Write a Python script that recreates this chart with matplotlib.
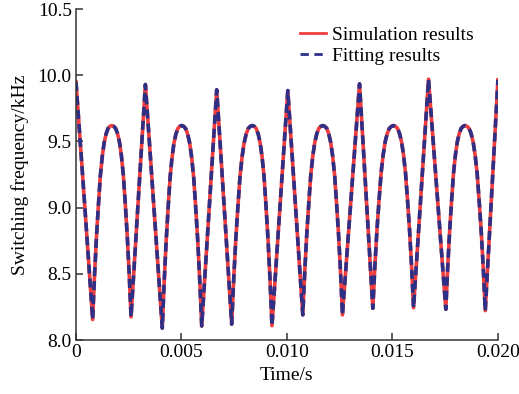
import matplotlib
matplotlib.use("Agg")
import matplotlib.pyplot as plt

plt.rcParams['font.family'] = ['Liberation Serif', 'DejaVu Serif']

# time in ms, switching frequency in kHz
time_ms = [
    0.0, 0.40, 0.79,
    0.881, 0.972, 1.063, 1.154, 1.245, 1.336, 1.427, 1.518, 1.609, 1.70,
    1.791, 1.882, 1.973, 2.064, 2.155, 2.246, 2.337, 2.428, 2.519, 2.61,
    2.95, 3.29, 3.69, 4.09,
    4.182, 4.274, 4.366, 4.458, 4.55, 4.642, 4.734, 4.826, 4.918, 5.01,
    5.105, 5.20, 5.295, 5.39, 5.485, 5.58, 5.675, 5.77, 5.865, 5.96,
    6.315, 6.67, 7.025, 7.38,
    7.478, 7.576, 7.674, 7.772, 7.87, 7.968, 8.066, 8.164, 8.262, 8.36,
    8.453, 8.546, 8.639, 8.732, 8.825, 8.918, 9.011, 9.104, 9.197, 9.29,
    9.665, 10.04, 10.395, 10.75,
    10.845, 10.94, 11.035, 11.13, 11.225, 11.32, 11.415, 11.51, 11.605, 11.70,
    11.793, 11.886, 11.979, 12.072, 12.165, 12.258, 12.351, 12.444, 12.537, 12.63,
    13.035, 13.44, 13.755, 14.07,
    14.168, 14.266, 14.364, 14.462, 14.56, 14.658, 14.756, 14.854, 14.952, 15.05,
    15.145, 15.24, 15.335, 15.43, 15.525, 15.62, 15.715, 15.81, 15.905, 16.0,
    16.355, 16.71, 17.12, 17.53,
    17.621, 17.712, 17.803, 17.894, 17.985, 18.076, 18.167, 18.258, 18.349, 18.44,
    18.536, 18.632, 18.728, 18.824, 18.92, 19.016, 19.112, 19.208, 19.304, 19.40,
    19.70, 20.0,
]
sim_freq = [
    9.95, 9.05, 8.155,
    8.495, 8.782, 9.019, 9.239, 9.386, 9.491, 9.557, 9.598, 9.614, 9.62,
    9.614, 9.598, 9.558, 9.493, 9.389, 9.244, 9.028, 8.793, 8.510, 8.175,
    9.05, 9.93, 9.01, 8.09,
    8.445, 8.745, 8.993, 9.222, 9.375, 9.485, 9.554, 9.597, 9.614, 9.62,
    9.614, 9.597, 9.555, 9.487, 9.378, 9.226, 8.999, 8.754, 8.457, 8.106,
    9.0, 9.89, 9.005, 8.12,
    8.468, 8.762, 9.005, 9.230, 9.380, 9.488, 9.556, 9.598, 9.614, 9.62,
    9.614, 9.597, 9.555, 9.487, 9.378, 9.227, 9.000, 8.755, 8.459, 8.108,
    8.996, 9.884, 9.037, 8.19,
    8.522, 8.802, 9.034, 9.248, 9.391, 9.494, 9.559, 9.599, 9.614, 9.62,
    9.614, 9.599, 9.559, 9.494, 9.391, 9.248, 9.034, 8.802, 8.522, 8.19,
    9.06, 9.935, 9.09, 8.24,
    8.560, 8.831, 9.054, 9.261, 9.399, 9.499, 9.561, 9.599, 9.614, 9.62,
    9.614, 9.599, 9.561, 9.499, 9.400, 9.262, 9.056, 8.833, 8.563, 8.244,
    9.107, 9.97, 9.10, 8.232,
    8.554, 8.826, 9.051, 9.259, 9.398, 9.498, 9.560, 9.599, 9.614, 9.62,
    9.614, 9.599, 9.560, 9.497, 9.396, 9.257, 9.047, 8.820, 8.546, 8.222,
    9.09, 9.965,
]
fit_freq = list(sim_freq)

t = [v / 1000 for v in time_ms]

xticks = [0, 0.005, 0.010, 0.015, 0.020]
xtick_labels = ['0', '0.005', '0.010', '0.015', '0.020']
yticks = [8.0, 8.5, 9.0, 9.5, 10.0, 10.5]
ytick_labels = ['8.0', '8.5', '9.0', '9.5', '10.0', '10.5']

fs = 14

fig = plt.figure(figsize=(5.19, 3.94), dpi=100)
ax = fig.add_axes([0.1464, 0.137, 0.813, 0.840])

ax.plot(t, sim_freq, color='#f03c3c', lw=2.6, label='Simulation results')
ax.plot(t, fit_freq, color='#2e2f86', lw=2.6, ls=(0, (2.5, 1.4)), label='Fitting results')

ax.set_xlim(0, 0.020)
ax.set_ylim(8.0, 10.5)
ax.set_xticks(xticks)
ax.set_xticklabels(xtick_labels)
ax.set_yticks(yticks)
ax.set_yticklabels(ytick_labels)

for side in ['top', 'right']:
    ax.spines[side].set_visible(False)
for side in ['left', 'bottom']:
    ax.spines[side].set_color('#333333')
    ax.spines[side].set_linewidth(1.1)

ax.tick_params(direction='in', length=5, width=1.1, color='#333333',
               labelsize=fs, pad=3)
ax.set_xlabel('Time/s', fontsize=fs, labelpad=4)
ax.set_ylabel('Switching frequency/kHz', fontsize=fs, labelpad=6)

leg = ax.legend(loc='upper right', bbox_to_anchor=(0.975, 0.99), frameon=False,
                fontsize=fs, handlelength=1.35, handletextpad=0.3,
                labelspacing=0.2, borderaxespad=0.3)
leg.legend_handles[0].set_linewidth(2.0)
leg.legend_handles[1].set_linewidth(2.0)
leg.legend_handles[1].set_linestyle((0, (3.0, 2.0)))

fig.savefig('out.png', dpi=100)
